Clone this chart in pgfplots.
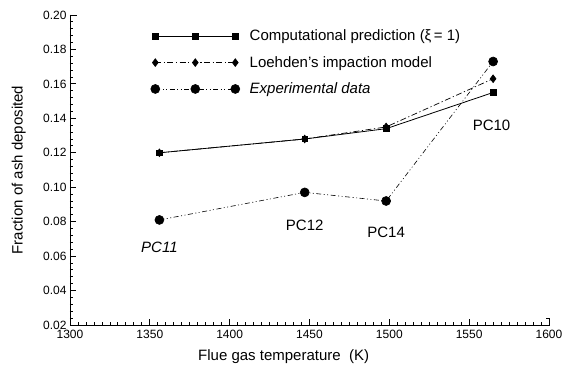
\documentclass[border=0pt]{standalone}
\usepackage{fontspec}
\setmainfont{Liberation Sans}
\usepackage{pgfplots}
\pgfplotsset{compat=1.18}

\begin{document}
\begin{tikzpicture}
\begin{axis}[
  scale only axis,
  width=479pt, height=310pt,
  xmin=1300, xmax=1600, ymin=0.02, ymax=0.20,
  xtick={1300,1350,...,1600},
  xticklabels={1300,1350,1400,1450,1500,1550,1600},
  ytick={0.02,0.04,...,0.201},
  yticklabels={0.02,0.04,0.06,0.08,0.10,0.12,0.14,0.16,0.18,0.20},
  minor x tick num=9,
  minor y tick num=4,
  major tick length=6pt,
  tick style={black, line width=0.8pt},
  tick label style={font=\large},
  xticklabel style={yshift=-2pt},
  xlabel={Flue gas temperature\ \ (K)},
  ylabel={Fraction of ash deposited},
  label style={font=\fontsize{15}{17}\selectfont},
  xlabel style={at={(axis description cs:0.446,-0.103)}, anchor=center},
  ylabel style={at={(axis description cs:-0.107,0.5)}, anchor=center},
  legend cell align=left,
  legend style={draw=none, fill=none, at={(0.162,0.965)}, anchor=north west,
    font=\fontsize{15}{17}\selectfont, row sep=10pt},
  legend image code/.code={%
    \draw[mark repeat=1, mark phase=1, #1] plot coordinates {(0pt,0pt) (40pt,0pt) (80pt,0pt)};
    \path (92pt,0pt);},
]
\addplot[black, line width=0.8pt, mark=square*, mark size=2.8pt, mark options={solid}]
  coordinates {(1356,0.120) (1447,0.128) (1498,0.134) (1565,0.155)};
\addlegendentry{Computational prediction (ξ\,= 1)}

\addplot[black, line width=0.7pt, dash pattern=on 6pt off 2.5pt on 1.2pt off 2.5pt, mark=diamond*, mark size=3.8pt, mark options={solid}]
  coordinates {(1356,0.120) (1447,0.128) (1498,0.135) (1565,0.163)};
\addlegendentry{Loehden's impaction model}

\addplot[black, line width=0.6pt, dash pattern=on 5pt off 2.5pt on 1pt off 2.5pt on 1pt off 2.5pt, mark=*, mark size=4.5pt, mark options={solid}]
  coordinates {(1356,0.081) (1447,0.097) (1498,0.092) (1565,0.173)};
\addlegendentry{\itshape Experimental data}

\node[font=\fontsize{15}{17}\selectfont\itshape] at (axis cs:1356,0.065) {PC11};
\node[font=\fontsize{15}{17}\selectfont] at (axis cs:1447,0.078) {PC12};
\node[font=\fontsize{15}{17}\selectfont] at (axis cs:1498,0.074) {PC14};
\node[font=\fontsize{15}{17}\selectfont] at (axis cs:1564,0.136) {PC10};
\end{axis}
% open frame: blank out the top and right edges, keep the left and bottom spines
\fill[white] ([xshift=7pt,yshift=1pt]current axis.north west) rectangle ([xshift=1.5pt,yshift=-6.6pt]current axis.north east);
\fill[white] ([xshift=-6.6pt,yshift=6.5pt]current axis.south east) rectangle ([xshift=1.5pt,yshift=1pt]current axis.north east);
\draw[line width=0.9pt] (current axis.north west) -- (current axis.south west) -- (current axis.south east);
\pgfresetboundingbox
\path ([xshift=-70pt,yshift=-42pt]current axis.south west) rectangle ([xshift=19pt,yshift=15pt]current axis.north east);
\end{tikzpicture}
\end{document}
